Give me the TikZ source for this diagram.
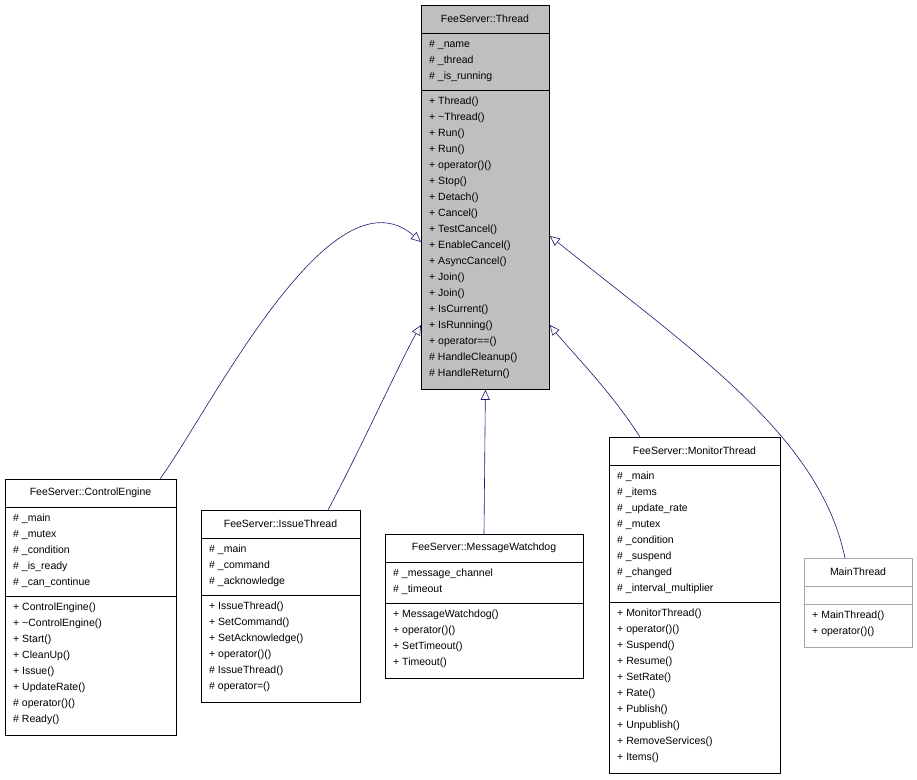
\documentclass[tikz,border=0pt]{standalone}
\usepackage{fontspec}
\setmainfont{Liberation Sans}
\usetikzlibrary{arrows.meta,calc}
\definecolor{edge}{HTML}{191970}
\def\bordercol{black}
\def\boxfill{white}
\tikzset{
 box/.style={draw=\bordercol,fill=\boxfill,inner sep=0pt,line width=0.8pt},
 txt/.style={anchor=west,inner sep=0pt,font=\fontsize{10.5}{12}\selectfont},
 inh/.style={draw=edge,line width=0.6pt,-{Triangle[open,length=10pt,width=9pt,fill=white]}}
}
\newcommand\umlclass[9]{%
 \pgfmathsetmacro\cA{#3+28}%
 \pgfmathsetmacro\cS{#6==0 ? \cA+18 : \cA+16*#6+9}%
 \pgfmathsetmacro\cB{\cS+16*#8+11}%
 \pgfmathsetmacro\cH{\cB-#3}%
 \node[box,minimum width=#4pt,minimum height=\cH pt,anchor=north west] (#1) at (#2pt,-#3pt) {};
 \draw[\bordercol,line width=0.8pt] (#2pt,-\cA pt) -- ++(#4pt,0);
 \draw[\bordercol,line width=0.8pt] (#2pt,-\cS pt) -- ++(#4pt,0);
 \node[txt,anchor=center] at ({(#2+#4/2)*1pt},{-(#3+14)*1pt}) {#5};
 \foreach \t [count=\i] in {#7} \node[txt] at ({(#2+8)*1pt},{-(\cA+12+16*(\i-1))*1pt}) {\t};
 \foreach \t [count=\i] in {#9} \node[txt] at ({(#2+8)*1pt},{-(\cS+12+16*(\i-1))*1pt}) {\t};
}
\begin{document}
\begin{tikzpicture}[x=1pt,y=1pt]
\useasboundingbox (0,0) rectangle (917,-779);
\def\boxfill{black!25}
\umlclass{thread}{421}{5}{128}{FeeServer::Thread}{3}{\# \_name,\# \_thread,\# \_is\_running}{18}{+ Thread(),+ \textasciitilde Thread(),+ Run(),+ Run(),+ operator()(),+ Stop(),+ Detach(),+ Cancel(),+ TestCancel(),+ EnableCancel(),+ AsyncCancel(),+ Join(),+ Join(),+ IsCurrent(),+ IsRunning(),+ operator==(),\# HandleCleanup(),\# HandleReturn()}
\def\boxfill{white}
\umlclass{ce}{5}{479}{171}{FeeServer::ControlEngine}{5}{\# \_main,\# \_mutex,\# \_condition,\# \_is\_ready,\# \_can\_continue}{8}{+ ControlEngine(),+ \textasciitilde ControlEngine(),+ Start(),+ CleanUp(),+ Issue(),+ UpdateRate(),\# operator()(),\# Ready()}
\umlclass{it}{201}{510}{159}{FeeServer::IssueThread}{3}{\# \_main,\# \_command,\# \_acknowledge}{6}{+ IssueThread(),+ SetCommand(),+ SetAcknowledge(),+ operator()(),\# IssueThread(),\# operator=()}
\umlclass{mw}{385}{534}{198}{FeeServer::MessageWatchdog}{2}{\# \_message\_channel,\# \_timeout}{4}{+ MessageWatchdog(),+ operator()(),+ SetTimeout(),+ Timeout()}
\umlclass{mt}{609}{437}{171}{FeeServer::MonitorThread}{8}{\# \_main,\# \_items,\# \_update\_rate,\# \_mutex,\# \_condition,\# \_suspend,\# \_changed,\# \_interval\_multiplier}{10}{+ MonitorThread(),+ operator()(),+ Suspend(),+ Resume(),+ SetRate(),+ Rate(),+ Publish(),+ Unpublish(),+ RemoveServices(),+ Items()}
\def\bordercol{black!35}
\umlclass{main}{804}{558}{108}{MainThread}{0}{}{2}{+ MainThread(),+ operator()()}
\draw[inh] ($(ce.north west)+(155,0)$) .. controls +(50,69) and +(-90,78) .. ($(thread.north west)+(0,-237)$);
\draw[inh] ($(it.north west)+(127,0)$) .. controls +(32,60) and +(-20,-35) .. ($(thread.north west)+(0,-320)$);
\draw[inh] ($(mw.north west)+(99,0)$) -- (thread.south);
\draw[inh] ($(mt.north west)+(31,0)$) .. controls +(-30,47) and +(20,-25) .. ($(thread.north east)+(0,-320)$);
\draw[inh] ($(main.north west)+(41,0)$) .. controls +(-25,120) and +(150,-120) .. ($(thread.north east)+(0,-231)$);
\end{tikzpicture}
\end{document}
